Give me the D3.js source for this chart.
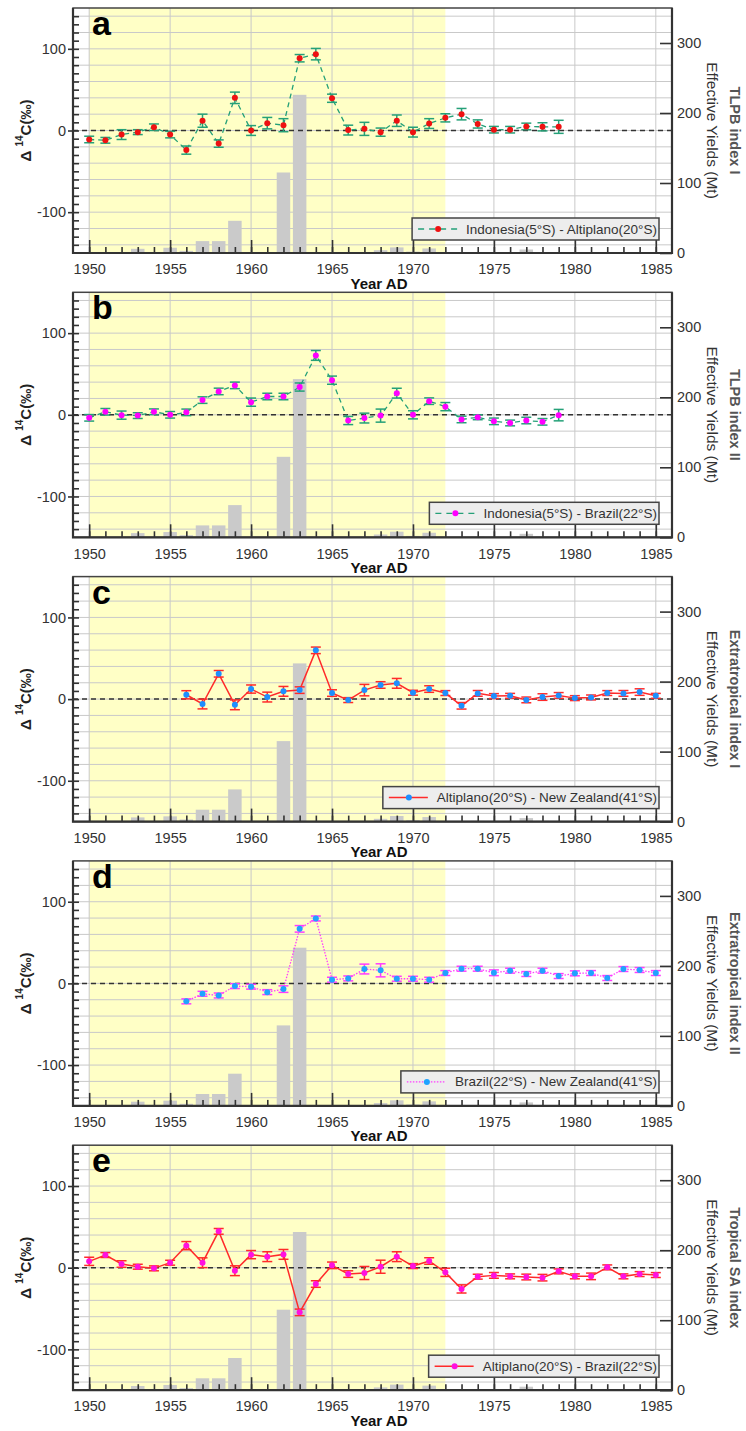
<!DOCTYPE html>
<html>
<head>
<meta charset="utf-8">
<script src="https://cdn.jsdelivr.net/npm/d3@7/dist/d3.min.js"></script>
<style>
  body { margin: 0; background: #fff; }
  svg text { font-family: "Liberation Sans", Arial, sans-serif; }
</style>
</head>
<body>
<svg id="chart"></svg>
<script>
// ---- data ----
const yearsAB = [1950,1951,1952,1953,1954,1955,1956,1957,1958,1959,1960,1961,1962,1963,1964,
                 1965,1966,1967,1968,1969,1970,1971,1972,1973,1974,1975,1976,1977,1978,1979];
const yearsCD = [1956,1957,1958,1959,1960,1961,1962,1963,1964,1965,1966,1967,1968,1969,1970,
                 1971,1972,1973,1974,1975,1976,1977,1978,1979,1980,1981,1982,1983,1984,1985];
const yearsE  = [1950,1951,1952,1953,1954,1955,1956,1957,1958,1959,1960,1961,1962,1963,1964,1965,1966,1967,
                 1968,1969,1970,1971,1972,1973,1974,1975,1976,1977,1978,1979,1980,1981,1982,1983,1984,1985];

const valuesA = [-11,-12,-5,-2,4,-5,-24,12,-16,40,0,9,6.5,88.5,93.5,39.5,0.5,2,-2,12,-2,8.5,15.5,20,8,1,1,5,4.5,4.5];
const errorsA = [4,3.5,6,3,4,4,5,8,4.5,7,6,7,8,4.5,7,5,6,8,5,7,6,6,5,7,5,4,4,4,5,8];

const valuesB = [-3.7,3.7,-0.4,-1,3.7,0,3,18,28.6,36,15.5,22.4,22.4,34,72.7,42.4,-7,-4,-1,26.5,0,16.7,10,-5.7,-3,-8,-10,-7,-8.6,-0.4];
const errorsB = [4,4,5,3.5,3.5,4,4,4,4,4,5,4,4,5,6,5,5,6,8,6,5,4,5,4,3,4,3.5,4,4,7];

const valuesC = [5.3,-6,31,-7,12.3,2.5,9.5,11,59.7,7.4,-1.2,11,17.3,19.3,7.8,12.3,7.4,-8.2,7,3.7,4,-1,2.5,4.5,1.2,2,7.4,7,8.6,4];
const errorsC = [5,6,4,6,5,6,6,4,4,4,3,7,4,6,3,4,3,4,3.5,3,3,3.5,4,3.5,3,3,3,3.5,4,3];

const valuesD = [-22,-12.7,-14.8,-3.3,-4,-10.7,-7,66.8,79.5,4.5,6.1,17.6,16,5.7,5.7,4.5,12.7,18,18,13,15.6,11.5,15.6,9,12.3,12.7,6.6,17.6,16.4,12.7];
const errorsD = [3,3,3,3,3,3,4,4,3,3,3,6,8,3,3,3,3,3,3,3.5,3,3,3,3,3,3,3,3,3,3];

const valuesE = [7.8,15.5,4.5,1.2,-0.8,6.1,27,6.1,44.5,-3.7,16,13.5,16.3,-54.7,-20,2.9,-7.8,-6.5,
                 1.2,13.5,2,8.2,-5.7,-26,-11,-9.4,-10.6,-11.4,-12.2,-4.5,-10.6,-10.6,0.4,-10.6,-7.8,-9];
const errorsE = [5,3,4,3,3,3,5,6,3.5,6,5,6,6,4,4,4,4,8,8,6,3,4,5,5,3,3.5,3,3.5,4,3,3,4,3,3,3,3];

// effective yields (Mt), grey bars on the right axis
const barYears  = [1953,1955,1956,1957,1958,1959,1962,1963,1968,1969,1970,1971,1974,1977,1978];
const barYields = [6,7.5,3,17,17,46,115,226,4,8,2,6.5,1,5,1];

const xTicks = [1950,1955,1960,1965,1970,1975,1980,1985];
const leftTicks = [-100,0,100];
const rightTicks = [0,100,200,300];

const panelLetters = ["a","b","c","d","e"];
const indexLabels = ["TLPB index I","TLPB index II","Extratropical index I","Extratropical index II","Tropical SA index"];
const legendLabels = ["Indonesia(5°S) - Altiplano(20°S)","Indonesia(5°S) - Brazil(22°S)",
                      "Altiplano(20°S) - New Zealand(41°S)","Brazil(22°S) - New Zealand(41°S)",
                      "Altiplano(20°S) - Brazil(22°S)"];

// ---- styles per panel ----
const green = "#25a078", red = "#ff2a2a", magenta = "#ff3cff";
const panels = [
  { years: yearsAB, values: valuesA, errors: errorsA, line: green, dash: "5,4", lw: 1.3, dot: "#ee1111" },
  { years: yearsAB, values: valuesB, errors: errorsB, line: green, dash: "5,4", lw: 1.3, dot: "#ff00ff" },
  { years: yearsCD, values: valuesC, errors: errorsC, line: red, dash: null, lw: 1.5, dot: "#1e8fff" },
  { years: yearsCD, values: valuesD, errors: errorsD, line: magenta, dash: "1.5,1.5", lw: 1.3, dot: "#1fa3ff" },
  { years: yearsE, values: valuesE, errors: errorsE, line: red, dash: null, lw: 1.5, dot: "#ff10e0" }
];

const W = 746, H = 1431;
const left = 73, right = 672, ph = 245;
const svg = d3.select("#chart").attr("width", W).attr("height", H);

const x = d3.scaleLinear().domain([1949, 1986]).range([left, right]);
const yL = d3.scaleLinear().domain([-150, 150]).range([ph, 0]);
const yR = d3.scaleLinear().domain([0, 350]).range([ph, 0]);
const plain = d => String(d);   // keeps the ASCII hyphen in "-100"

panels.forEach((p, i) => {
  const top = 8 + i * 284.3;
  const g = svg.append("g").attr("transform", `translate(0,${top})`);

  // yellow band 1950-1972
  g.append("rect")
    .attr("x", x(1950)).attr("y", 0)
    .attr("width", x(1972) - x(1950)).attr("height", ph)
    .attr("fill", "#ffffc6");

  // grid
  g.selectAll(".hg").data(d3.range(-140, 141, 20)).enter().append("line")
    .attr("x1", left).attr("x2", right)
    .attr("y1", d => yL(d)).attr("y2", d => yL(d))
    .attr("stroke", "#c9c9c9").attr("stroke-width", 1);
  g.selectAll(".vg").data(xTicks).enter().append("line")
    .attr("x1", d => x(d)).attr("x2", d => x(d))
    .attr("y1", 0).attr("y2", ph)
    .attr("stroke", "#c9c9c9").attr("stroke-width", 1);

  // yield bars
  const bw = 13.5;
  g.selectAll(".bar").data(barYears).enter().append("rect")
    .attr("x", d => x(d) - bw / 2)
    .attr("width", bw)
    .attr("y", (d, k) => yR(barYields[k]))
    .attr("height", (d, k) => ph - yR(barYields[k]))
    .attr("fill", "#cacaca");

  // zero line
  g.append("line")
    .attr("x1", left).attr("x2", right)
    .attr("y1", yL(0)).attr("y2", yL(0))
    .attr("stroke", "#333").attr("stroke-width", 1.5)
    .attr("stroke-dasharray", "5,4");

  // axes
  const bottomMinor = d3.axisTop(x).tickValues(d3.range(1950, 1986)).tickSize(6).tickFormat("");
  g.append("g").attr("transform", `translate(0,${ph})`).call(bottomMinor);
  const bottomMajor = d3.axisTop(x).tickValues(xTicks).tickSize(13).tickFormat("");
  g.append("g").attr("transform", `translate(0,${ph})`).call(bottomMajor);
  const bottomLab = d3.axisBottom(x).tickValues(xTicks).tickSize(0).tickPadding(11).tickFormat(plain);
  g.append("g").attr("class", "lab").attr("transform", `translate(0,${ph})`).call(bottomLab);

  const leftMinor = d3.axisRight(yL).tickValues(d3.range(-140, 141, 10)).tickSize(6).tickFormat("");
  g.append("g").attr("transform", `translate(${left},0)`).call(leftMinor);
  const leftMajor = d3.axisLeft(yL).tickValues(leftTicks).tickSize(5).tickPadding(2).tickFormat(plain);
  g.append("g").attr("class", "lab").attr("transform", `translate(${left},0)`).call(leftMajor);

  const rightTk = d3.axisLeft(yR).tickValues(rightTicks).tickSize(12).tickFormat("");
  g.append("g").attr("transform", `translate(${right},0)`).call(rightTk);
  const rightLab = d3.axisRight(yR).tickValues(rightTicks).tickSize(0).tickPadding(5).tickFormat(plain);
  g.append("g").attr("class", "lab").attr("transform", `translate(${right},0)`).call(rightLab);

  g.selectAll(".domain").remove();
  g.selectAll(".tick line").attr("stroke", "#333").attr("stroke-width", 1.6);
  g.selectAll(".lab text").attr("font-size", 14.5).attr("fill", "#333")
    .style("font-family", "'Liberation Sans', Arial, sans-serif");

  // frame
  g.append("rect").attr("x", left).attr("y", 0).attr("width", right - left).attr("height", ph)
    .attr("fill", "none").attr("stroke", "#444").attr("stroke-width", 1.5);
  g.append("path").attr("d", `M${left},0V${ph}H${right}V0`)
    .attr("fill", "none").attr("stroke", "#333").attr("stroke-width", 2.2);

  // data: line, error bars, dots
  const pts = p.years.map((yr, k) => ({ yr, v: p.values[k], e: p.errors[k] }));
  const line = d3.line().x(d => x(d.yr)).y(d => yL(d.v));
  const path = g.append("path").datum(pts).attr("d", line)
    .attr("fill", "none").attr("stroke", p.line).attr("stroke-width", p.lw);
  if (p.dash) path.attr("stroke-dasharray", p.dash);

  const eb = g.selectAll(".eb").data(pts).enter().append("g").attr("stroke", p.line).attr("stroke-width", 1.5);
  eb.append("line").attr("x1", d => x(d.yr)).attr("x2", d => x(d.yr))
    .attr("y1", d => yL(d.v - d.e)).attr("y2", d => yL(d.v + d.e));
  eb.append("line").attr("x1", d => x(d.yr) - 5).attr("x2", d => x(d.yr) + 5)
    .attr("y1", d => yL(d.v - d.e)).attr("y2", d => yL(d.v - d.e));
  eb.append("line").attr("x1", d => x(d.yr) - 5).attr("x2", d => x(d.yr) + 5)
    .attr("y1", d => yL(d.v + d.e)).attr("y2", d => yL(d.v + d.e));

  g.selectAll(".dot").data(pts).enter().append("circle")
    .attr("cx", d => x(d.yr)).attr("cy", d => yL(d.v))
    .attr("r", 3).attr("fill", p.dot);

  // legend
  const txt = g.append("text").attr("x", 657).attr("y", ph - 19.5)
    .attr("text-anchor", "end").attr("font-size", 13.5).attr("fill", "#333")
    .text(legendLabels[i]);
  const tw = txt.node().getComputedTextLength();
  const bx = 657 - tw - 54;
  g.insert("rect", () => txt.node())
    .attr("x", bx).attr("y", ph - 35).attr("width", 659 - bx).attr("height", 22)
    .attr("fill", "#ededed").attr("stroke", "#444").attr("stroke-width", 1.5);
  const ll = g.append("line").attr("x1", bx + 6).attr("x2", bx + 45)
    .attr("y1", ph - 24).attr("y2", ph - 24)
    .attr("stroke", p.line).attr("stroke-width", p.lw);
  if (p.dash) ll.attr("stroke-dasharray", p.dash === "5,4" ? "6,5" : p.dash);
  g.append("circle").attr("cx", bx + 26).attr("cy", ph - 24).attr("r", 3).attr("fill", p.dot);

  // panel letter
  g.append("text").attr("x", 92).attr("y", 27)
    .attr("font-size", 34).attr("font-weight", "bold").attr("fill", "#000")
    .text(panelLetters[i]);

  // left title
  const lt = g.append("text")
    .attr("transform", `translate(25,${ph / 2}) rotate(-90)`)
    .attr("text-anchor", "middle").attr("dominant-baseline", "central")
    .attr("font-size", 15).attr("font-weight", "bold").attr("fill", "#222");
  lt.append("tspan").text("Δ ");
  lt.append("tspan").attr("font-size", 10).attr("dy", -6).text("14");
  lt.append("tspan").attr("dy", 6).text("C(‰)");

  // right titles
  g.append("text")
    .attr("transform", `translate(712,${ph / 2}) rotate(90)`)
    .attr("text-anchor", "middle").attr("dominant-baseline", "central")
    .attr("font-size", 15.5).attr("fill", "#333")
    .text("Effective Yields (Mt)");
  g.append("text")
    .attr("transform", `translate(735,${ph / 2}) rotate(90)`)
    .attr("text-anchor", "middle").attr("dominant-baseline", "central")
    .attr("font-size", 14.5).attr("font-weight", "bold").attr("fill", "#555")
    .text(indexLabels[i]);

  // x title
  g.append("text").attr("x", 379).attr("y", ph + 35.5)
    .attr("text-anchor", "middle").attr("font-size", 15).attr("font-weight", "bold").attr("fill", "#111")
    .text("Year AD");
});
</script>
</body>
</html>
